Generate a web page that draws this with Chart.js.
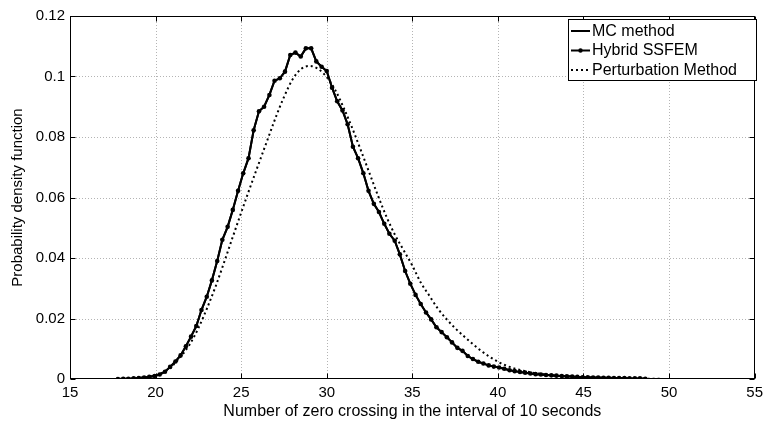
<!DOCTYPE html>
<html>
<head>
<meta charset="utf-8">
<script src="https://cdn.jsdelivr.net/npm/chart.js@4.4.1/dist/chart.umd.min.js"></script>
<style>
  html, body { margin: 0; padding: 0; background: #fff; }
  #wrap { width: 768px; height: 423px; position: relative; }
</style>
</head>
<body>
<div id="wrap"><canvas id="pdf"></canvas></div>
<script>
// Sample positions (number of zero crossings) for the MC and hybrid SSFEM estimates
const sampleX = [
  17.80, 18.11, 18.41, 18.72, 19.02, 19.33, 19.63, 19.94, 20.24, 20.55,
  20.85, 21.16, 21.46, 21.77, 22.07, 22.38, 22.68, 22.99, 23.29, 23.60,
  23.90, 24.21, 24.51, 24.82, 25.12, 25.43, 25.73, 26.04, 26.34, 26.65,
  26.95, 27.26, 27.56, 27.87, 28.17, 28.48, 28.78, 29.09, 29.39, 29.70,
  30.00, 30.31, 30.61, 30.92, 31.22, 31.53, 31.83, 32.14, 32.44, 32.75,
  33.05, 33.36, 33.66, 33.97, 34.27, 34.58, 34.88, 35.19, 35.49, 35.80,
  36.10, 36.41, 36.71, 37.02, 37.32, 37.63, 37.93, 38.24, 38.54, 38.85,
  39.15, 39.46, 39.76, 40.07, 40.37, 40.68, 40.98, 41.29, 41.59, 41.90,
  42.20, 42.51, 42.81, 43.12, 43.42, 43.73, 44.03, 44.34, 44.64, 44.95,
  45.25, 45.56, 45.86, 46.17, 46.47, 46.78, 47.08, 47.39, 47.69, 48.00,
  48.30, 48.61
];

// Monte Carlo estimate of the density
const mcPdf = [
  0.0000, 0.0001, 0.0001, 0.0002, 0.0003, 0.0005, 0.0007, 0.0010, 0.0015, 0.0024,
  0.0040, 0.0058, 0.0078, 0.0108, 0.0140, 0.0175, 0.0228, 0.0272, 0.0326, 0.0390,
  0.0460, 0.0503, 0.0559, 0.0622, 0.0680, 0.0730, 0.0822, 0.0885, 0.0900, 0.0939,
  0.0986, 0.0994, 0.1016, 0.1071, 0.1079, 0.1066, 0.1093, 0.1093, 0.1050, 0.1032,
  0.1018, 0.0963, 0.0918, 0.0888, 0.0842, 0.0768, 0.0730, 0.0680, 0.0622, 0.0579,
  0.0552, 0.0513, 0.0480, 0.0457, 0.0412, 0.0357, 0.0315, 0.0278, 0.0248, 0.0220,
  0.0197, 0.0171, 0.0155, 0.0138, 0.0121, 0.0103, 0.0093, 0.0076, 0.0066, 0.0057,
  0.0051, 0.0045, 0.0041, 0.0038, 0.0034, 0.0029, 0.0026, 0.0023, 0.0021, 0.0018,
  0.0016, 0.0015, 0.0013, 0.0012, 0.0011, 0.0010, 0.0009, 0.0008, 0.0007, 0.0006,
  0.0006, 0.0005, 0.0005, 0.0004, 0.0004, 0.0003, 0.0003, 0.0003, 0.0002, 0.0002,
  0.0002, 0.0001
];

// Hybrid SSFEM estimate of the density
const hybridPdf = [
  0.0000, 0.0001, 0.0001, 0.0002, 0.0003, 0.0005, 0.0007, 0.0010, 0.0015, 0.0024,
  0.0040, 0.0058, 0.0078, 0.0108, 0.0140, 0.0175, 0.0228, 0.0272, 0.0326, 0.0390,
  0.0460, 0.0503, 0.0559, 0.0622, 0.0680, 0.0730, 0.0822, 0.0885, 0.0900, 0.0939,
  0.0986, 0.0994, 0.1016, 0.1071, 0.1079, 0.1066, 0.1093, 0.1093, 0.1050, 0.1032,
  0.1018, 0.0963, 0.0918, 0.0888, 0.0842, 0.0768, 0.0730, 0.0680, 0.0622, 0.0579,
  0.0552, 0.0513, 0.0480, 0.0457, 0.0412, 0.0357, 0.0315, 0.0278, 0.0248, 0.0220,
  0.0197, 0.0171, 0.0155, 0.0138, 0.0121, 0.0103, 0.0093, 0.0076, 0.0066, 0.0057,
  0.0051, 0.0045, 0.0041, 0.0038, 0.0034, 0.0029, 0.0026, 0.0023, 0.0021, 0.0018,
  0.0016, 0.0015, 0.0013, 0.0012, 0.0011, 0.0010, 0.0009, 0.0008, 0.0007, 0.0006,
  0.0006, 0.0005, 0.0005, 0.0004, 0.0004, 0.0003, 0.0003, 0.0003, 0.0002, 0.0002,
  0.0002, 0.0001
];

// Perturbation method: positions and density
const pertX = [
  18, 18.5, 19, 19.5, 20, 20.5, 21, 21.5, 22, 22.5,
  23, 23.5, 24, 24.5, 25, 25.5, 26, 26.5, 27, 27.5,
  28, 28.5, 29, 29.5, 30, 30.5, 31, 31.5, 32, 32.5,
  33, 33.5, 34, 34.5, 35, 35.5, 36, 36.5, 37, 37.5,
  38, 38.5, 39, 39.5, 40, 40.5, 41, 41.5, 42, 42.5,
  43, 43.5, 44, 44.5, 45, 45.5, 46, 47, 48, 49,
  50, 51, 52
];
const pertPdf = [
  0.0000, 0.0001, 0.0003, 0.0006, 0.0012, 0.0024, 0.0045, 0.0076, 0.0115, 0.0168,
  0.0233, 0.0305, 0.0385, 0.0468, 0.0550, 0.0630, 0.0708, 0.0785, 0.0862, 0.0932,
  0.0990, 0.1025, 0.1035, 0.1025, 0.0998, 0.0955, 0.0895, 0.0828, 0.0755, 0.0680,
  0.0605, 0.0535, 0.0475, 0.0425, 0.0375, 0.0318, 0.0275, 0.0232, 0.0198, 0.0168,
  0.0142, 0.0117, 0.0094, 0.0074, 0.0057, 0.0044, 0.0034, 0.0027, 0.0021, 0.0017,
  0.0013, 0.0010, 0.0008, 0.0006, 0.0005, 0.0004, 0.0003, 0.0002, 0.0001, 0.0001,
  0.0000, 0.0000, 0.0000
];

const seriesNames = ['MC method', 'Hybrid SSFEM', 'Perturbation Method'];
const xTicks = [15, 20, 25, 30, 35, 40, 45, 50, 55];
const yTicks = [0, 0.02, 0.04, 0.06, 0.08, 0.1, 0.12];

const FONT = '"Liberation Sans", Arial, Helvetica, sans-serif';

const toPoints = (xs, ys) => xs.map((x, i) => ({ x: x, y: ys[i] }));

// Dotted grid, boxed frame with inward ticks, and the legend box
const framePlugin = {
  id: 'frame',
  beforeDatasetsDraw(chart) {
    const { ctx, chartArea: a, scales } = chart;
    ctx.save();
    ctx.strokeStyle = '#b4b4b4';
    ctx.lineWidth = 1;
    ctx.setLineDash([1, 2]);
    xTicks.forEach(v => {
      const px = Math.round(scales.x.getPixelForValue(v)) + 0.5;
      if (px <= a.left + 1 || px >= a.right - 1) return;
      ctx.beginPath(); ctx.moveTo(px, a.top); ctx.lineTo(px, a.bottom); ctx.stroke();
    });
    yTicks.forEach(v => {
      const py = Math.round(scales.y.getPixelForValue(v)) + 0.5;
      if (py <= a.top + 1 || py >= a.bottom - 1) return;
      ctx.beginPath(); ctx.moveTo(a.left, py); ctx.lineTo(a.right, py); ctx.stroke();
    });
    ctx.restore();
  },
  afterDatasetsDraw(chart) {
    const { ctx, chartArea: a, scales } = chart;
    ctx.save();
    ctx.setLineDash([]);
    ctx.strokeStyle = '#000';
    ctx.lineWidth = 1;
    const L = Math.round(a.left) + 0.5, R = Math.round(a.right) - 0.5;
    const T = Math.round(a.top) + 0.5, B = Math.round(a.bottom) - 0.5;
    ctx.strokeRect(L, T, R - L, B - T);
    const tl = 5;
    xTicks.forEach(v => {
      const px = Math.round(scales.x.getPixelForValue(v)) + 0.5;
      ctx.beginPath();
      ctx.moveTo(px, B); ctx.lineTo(px, B - tl);
      ctx.moveTo(px, T); ctx.lineTo(px, T + tl);
      ctx.stroke();
    });
    yTicks.forEach(v => {
      const py = Math.round(scales.y.getPixelForValue(v)) + 0.5;
      ctx.beginPath();
      ctx.moveTo(L, py); ctx.lineTo(L + tl, py);
      ctx.moveTo(R, py); ctx.lineTo(R - tl, py);
      ctx.stroke();
    });

    // legend
    const bx = 568.5, by = 19.5, bw = 188, bh = 61;
    ctx.fillStyle = '#fff';
    ctx.fillRect(bx, by, bw, bh);
    ctx.strokeRect(bx, by, bw, bh);
    ctx.font = '16px ' + FONT;
    ctx.textBaseline = 'middle';
    ctx.fillStyle = '#000';
    const rows = [31, 50.5, 70];
    chart.data.datasets.forEach((ds, i) => {
      const y = rows[i];
      ctx.save();
      ctx.strokeStyle = '#000';
      ctx.lineWidth = 2;
      ctx.setLineDash(ds.borderDash || []);
      ctx.beginPath(); ctx.moveTo(571, y); ctx.lineTo(590, y); ctx.stroke();
      ctx.restore();
      if (ds.pointRadius > 0) {
        ctx.beginPath(); ctx.arc(580.5, y, 2.2, 0, Math.PI * 2); ctx.fill();
      }
      ctx.fillText(ds.label, 592, y + 0.5);
    });
    ctx.restore();
  }
};

new Chart(document.getElementById('pdf'), {
  type: 'line',
  data: {
    datasets: [
      {
        label: seriesNames[0],
        data: toPoints(sampleX, mcPdf),
        borderColor: '#000', borderWidth: 2, pointRadius: 0, tension: 0
      },
      {
        label: seriesNames[1],
        data: toPoints(sampleX, hybridPdf),
        borderColor: '#000', backgroundColor: '#000', borderWidth: 2,
        pointRadius: 2.3, pointBackgroundColor: '#000', pointBorderWidth: 0, tension: 0
      },
      {
        label: seriesNames[2],
        data: toPoints(pertX, pertPdf),
        borderColor: '#000', borderWidth: 2, borderDash: [2, 3],
        pointRadius: 0, cubicInterpolationMode: 'monotone'
      }
    ]
  },
  options: {
    responsive: true,
    maintainAspectRatio: false,
    animation: false,
    layout: { padding: { top: 16, right: 10, left: 0, bottom: 0 } },
    plugins: { legend: { display: false }, tooltip: { enabled: false } },
    scales: {
      x: {
        type: 'linear', min: 15, max: 55,
        afterBuildTicks: s => { s.ticks = xTicks.map(v => ({ value: v })); },
        afterFit: s => { s.height = 44; },
        grid: { display: false, drawTicks: false },
        border: { display: false },
        ticks: { color: '#000', font: { family: FONT, size: 15 }, padding: 5, maxRotation: 0, autoSkip: false },
        title: { display: true, text: 'Number of zero crossing in the interval of 10 seconds',
                 color: '#000', font: { family: FONT, size: 16 }, padding: { top: 0, bottom: 2 } }
      },
      y: {
        min: 0, max: 0.12,
        afterBuildTicks: s => { s.ticks = yTicks.map(v => ({ value: v })); },
        afterFit: s => { s.width = 70; },
        grid: { display: false, drawTicks: false },
        border: { display: false },
        ticks: { color: '#000', font: { family: FONT, size: 15 }, padding: 5, autoSkip: false,
                 callback: v => String(Number(v.toFixed(2))) },
        title: { display: true, text: 'Probability density function',
                 color: '#000', font: { family: FONT, size: 15 }, padding: { top: 9, bottom: 0 } }
      }
    }
  },
  plugins: [framePlugin]
});
</script>
</body>
</html>
